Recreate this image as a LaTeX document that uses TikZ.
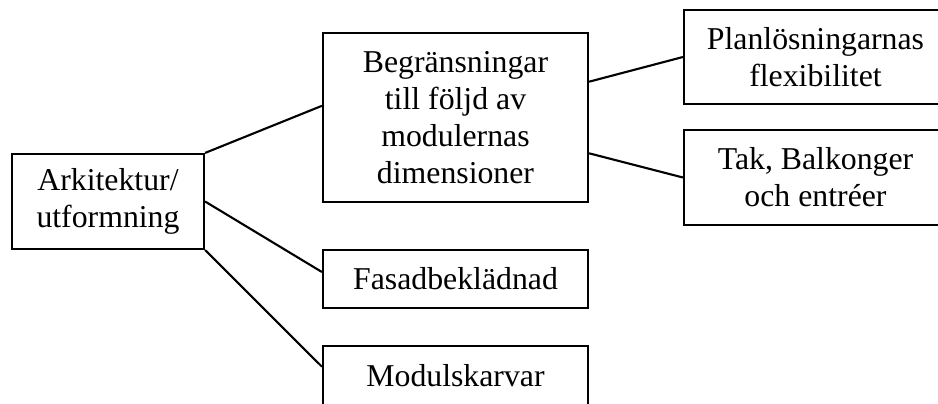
\documentclass[tikz,border=0pt]{standalone}
\usepackage{fontspec}
\setmainfont{Liberation Serif}
\begin{document}
\begin{tikzpicture}[x=0.025cm,y=-0.025cm,line width=1.5pt,
  box/.style={draw,rectangle,align=center,inner sep=0pt,minimum width=6.625cm,
    font=\fontsize{22.6}{26.3}\selectfont}]
\clip (0,0) rectangle (938,403);

\node[box,minimum width=4.8cm,minimum height=2.375cm] (arch) at (108,201.5) {Arkitektur/\\utformning};

\node[box,minimum height=4.225cm] (limit) at (455.5,117.5) {Begränsningar\\till följd av\\modulernas\\dimensioner};
\node[box,minimum height=1.45cm] (fasad) at (455.5,279) {Fasadbeklädnad};
\node[box,minimum height=1.5cm] (modul) at (455.5,376) {Modulskarvar};

\node[box,minimum width=6.575cm,minimum height=2.35cm] (plan) at (815.5,57) {Planlösningarnas\\flexibilitet};
\node[box,minimum width=6.575cm,minimum height=2.375cm] (tak) at (815.5,177.5) {Tak, Balkonger\\och entréer};

\draw (arch.north east) -- (limit.175);
\draw (arch.east) -- (fasad.177);
\draw (arch.south east) -- (modul.176);

\draw (limit.15) -- (plan.west);
\draw (limit.-15) -- (tak.west);
\end{tikzpicture}
\end{document}
